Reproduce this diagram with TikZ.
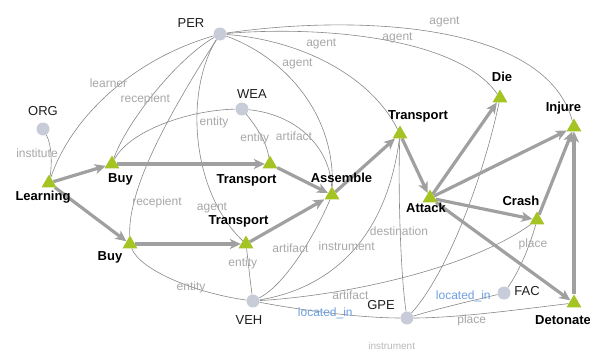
\documentclass[tikz,border=0pt]{standalone}
\usepackage{fontspec}
\setmainfont{Liberation Sans}
\usetikzlibrary{shapes.geometric,arrows.meta,backgrounds}
\definecolor{evt}{HTML}{A4C424}
\definecolor{ent}{HTML}{C8CCD8}
\definecolor{thickc}{HTML}{A0A0A0}
\definecolor{thinc}{HTML}{888888}
\definecolor{elab}{HTML}{A8A8A8}
\definecolor{blab}{HTML}{6FA0E2}
\begin{document}
\begin{tikzpicture}[x=1pt,y=-1pt,
 evnode/.style={regular polygon,regular polygon sides=3,fill=evt,minimum size=17pt,inner sep=0pt},
 ennode/.style={circle,fill=ent,minimum size=13pt,inner sep=0pt},
 evlab/.style={font=\fontsize{13}{15}\selectfont\bfseries,text=black,inner sep=0pt,anchor=base},
 enlab/.style={font=\fontsize{13}{15}\selectfont,text=black!88,inner sep=0pt,anchor=base},
 elabel/.style={font=\fontsize{12}{14}\selectfont,text=elab,inner sep=0pt,anchor=base},
 blabel/.style={font=\fontsize{12}{14}\selectfont,text=blab,inner sep=0pt,anchor=base},
 flow/.style={draw=thickc,line width=3.2pt,-{Stealth[length=11pt,width=10pt,inset=3pt]}},
 role/.style={draw=thinc,line width=0.6pt},
]
\useasboundingbox (0,0) rectangle (590,351);
% entity nodes
\node[ennode] (PER) at (220,34) {};
\node[ennode] (ORG) at (43,129) {};
\node[ennode] (WEA) at (242,109) {};
\node[ennode] (VEH) at (253,301) {};
\node[ennode] (GPE) at (407,318) {};
\node[ennode] (FAC) at (504,293) {};
% event nodes
\node[evnode] (Learn) at (49,183) {};
\node[evnode] (BuyA) at (112,164) {};
\node[evnode] (TrA) at (270,164) {};
\node[evnode] (Asm) at (332,195) {};
\node[evnode] (TrB) at (246,244) {};
\node[evnode] (BuyB) at (130,244) {};
\node[evnode] (TrC) at (400,134) {};
\node[evnode] (Att) at (430,198) {};
\node[evnode] (Die) at (500,98) {};
\node[evnode] (Inj) at (574,127) {};
\node[evnode] (Cra) at (537,220) {};
\node[evnode] (Det) at (574,303) {};
% node labels
\node[enlab] (lPER) at (191,27) {PER};
\node[enlab] (lORG) at (43,115) {ORG};
\node[enlab] (lWEA) at (252,98) {WEA};
\node[enlab] (lVEH) at (249,324) {VEH};
\node[enlab] (lGPE) at (381,309) {GPE};
\node[enlab] (lFAC) at (527,295) {FAC};
\node[evlab] (lLearn) at (43,200.5) {Learning};
\node[evlab] (lBuyA) at (120.5,182.5) {Buy};
\node[evlab] (lTrA) at (246.5,183) {Transport};
\node[evlab] (lTrB) at (238.5,224.5) {Transport};
\node[evlab] (lBuyB) at (110,260.5) {Buy};
\node[evlab] (lAsm) at (341.5,182.5) {Assemble};
\node[evlab] (lAtt) at (426,212.5) {Attack};
\node[evlab] (lCra) at (521,205) {Crash};
\node[evlab] (lDet) at (563,324) {Detonate};
\node[evlab] (lTrC) at (418,119) {Transport};
\node[evlab] (lDie) at (502,81.5) {Die};
\node[evlab] (lInj) at (563.5,111) {Injure};
% edge labels
\node[elabel] (e1) at (108.5,87.5) {learner};
\node[elabel] (e2) at (145.3,102) {recepient};
\node[elabel] (e3) at (37,157.5) {institute};
\node[elabel] (e4) at (214,125.5) {entity};
\node[elabel] (e5) at (254.7,141.5) {entity};
\node[elabel] (e6) at (294,140.7) {artifact};
\node[elabel] (e7) at (297.5,66.5) {agent};
\node[elabel] (e8) at (321.3,46.5) {agent};
\node[elabel] (e9) at (397.5,40) {agent};
\node[elabel] (e10) at (444.5,24.3) {agent};
\node[elabel] (e11) at (212,210) {agent};
\node[elabel] (e12) at (157,205) {recepient};
\node[elabel] (e13) at (242.8,266) {entity};
\node[elabel] (e14) at (191,290.7) {entity};
\node[elabel] (e15) at (290.5,252.7) {artifact};
\node[elabel] (e16) at (346.7,250) {instrument};
\node[elabel] (e17) at (399,235) {destination};
\node[elabel] (e18) at (350.5,299.3) {artifact};
\node[blabel] (e19) at (325.3,316) {located\_in};
\node[blabel] (e20) at (463.3,299.3) {located\_in};
\node[elabel] (e21) at (533,247.3) {place};
\node[elabel] (e22) at (471.7,323.3) {place};
\node[elabel,font=\fontsize{10}{12}\selectfont,text=elab!80] (e23) at (391.7,349) {instrument};
\begin{pgfonlayer}{background}
\fill[white] (0,0) rectangle (590,351);
% role edges
\draw[role] (PER) .. controls (130,60) and (70,120) .. (Learn);
\draw[role] (PER) .. controls (175,60) and (125,125) .. (BuyA);
\draw[role] (PER) .. controls (165,120) and (128,190) .. (BuyB);
\draw[role] (PER) .. controls (185,90) and (190,190) .. (TrB);
\draw[role] (PER) .. controls (280,55) and (335,110) .. (Asm);
\draw[role] (PER) .. controls (300,40) and (370,75) .. (TrC);
\draw[role] (PER) .. controls (330,25) and (460,40) .. (Die);
\draw[role] (PER) .. controls (350,15) and (545,20) .. (Inj);
\draw[role] (ORG) .. controls (52,145) and (52,165) .. (Learn);
\draw[role] (WEA) .. controls (190,110) and (130,130) .. (BuyA);
\draw[role] (WEA) .. controls (255,125) and (266,140) .. (TrA);
\draw[role] (WEA) .. controls (300,115) and (330,150) .. (Asm);
\draw[role] (VEH) .. controls (250,280) and (248,260) .. (TrB);
\draw[role] (VEH) .. controls (195,293) and (140,270) .. (BuyB);
\draw[role] (VEH) .. controls (285,285) and (315,235) .. (Asm);
\draw[role] (VEH) .. controls (320,290) and (385,250) .. (TrC);
\draw[role] (VEH) .. controls (350,295) and (470,268) .. (Cra);
\draw[role] (VEH) .. controls (300,310) and (360,318) .. (GPE);
\draw[role] (GPE) .. controls (400,270) and (398,180) .. (TrC);
\draw[role] (GPE) .. controls (450,270) and (485,170) .. (Die);
\draw[role] (GPE) .. controls (440,308) and (475,300) .. (FAC);
\draw[role] (GPE) .. controls (460,318) and (530,308) .. (Det);
\draw[role] (FAC) .. controls (520,270) and (530,245) .. (Cra);
% event flow
\draw[flow] (Learn) -- (BuyA);
\draw[flow] (Learn) -- (BuyB);
\draw[flow] (BuyA) -- (TrA);
\draw[flow] (BuyB) -- (TrB);
\draw[flow] (TrA) -- (Asm);
\draw[flow] (TrB) -- (Asm);
\draw[flow] (Asm) -- (TrC);
\draw[flow] (TrC) -- (Att);
\draw[flow] (Att) -- (Die);
\draw[flow] (Att) -- (Inj);
\draw[flow] (Att) -- (Cra);
\draw[flow] (Att) -- (Det);
\draw[flow] (Cra) -- (Inj);
\draw[flow] (Det) -- (Inj);
\end{pgfonlayer}
\end{tikzpicture}
\end{document}
